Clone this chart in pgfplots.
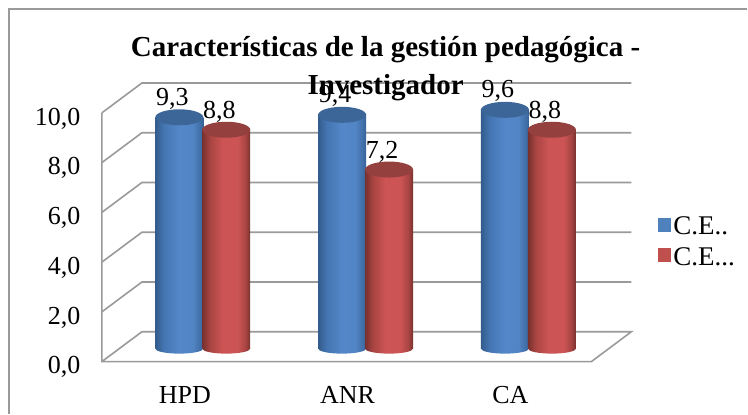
\documentclass[border=0pt]{standalone}
\usepackage{fontspec}
\setmainfont{Liberation Serif}
\usepackage{pgfplots}
\pgfplotsset{compat=1.18}
\definecolor{wallgray}{HTML}{9A9A9A}
\definecolor{bluetop}{HTML}{3C6698}
\definecolor{redtop}{HTML}{93403E}
\definecolor{blueleg}{HTML}{4F81BD}
\definecolor{redleg}{HTML}{C0504D}
\pgfdeclarehorizontalshading{cylb}{100bp}{
 rgb(0bp)=(0.20,0.36,0.55);
 rgb(25bp)=(0.20,0.36,0.55);
 rgb(34bp)=(0.27,0.46,0.70);
 rgb(50bp)=(0.33,0.53,0.79);
 rgb(64bp)=(0.32,0.52,0.77);
 rgb(72bp)=(0.25,0.43,0.65);
 rgb(75bp)=(0.22,0.38,0.58);
 rgb(100bp)=(0.22,0.38,0.58)}
\pgfdeclarehorizontalshading{cylr}{100bp}{
 rgb(0bp)=(0.47,0.19,0.18);
 rgb(25bp)=(0.47,0.19,0.18);
 rgb(33bp)=(0.66,0.27,0.26);
 rgb(46bp)=(0.80,0.33,0.33);
 rgb(62bp)=(0.80,0.33,0.33);
 rgb(70bp)=(0.66,0.27,0.26);
 rgb(75bp)=(0.47,0.19,0.18);
 rgb(100bp)=(0.47,0.19,0.18)}
\pgfdeclareplotmark{topb}{\pgfpathellipse{\pgfpointorigin}{\pgfpoint{24pt}{0pt}}{\pgfpoint{0pt}{8pt}}\pgfsetfillcolor{bluetop}\pgfusepathqfill}
\pgfdeclareplotmark{topr}{\pgfpathellipse{\pgfpointorigin}{\pgfpoint{24pt}{0pt}}{\pgfpoint{0pt}{8pt}}\pgfsetfillcolor{redtop}\pgfusepathqfill}
\pgfdeclareplotmark{botb}{\pgfpathellipse{\pgfpointorigin}{\pgfpoint{24pt}{0pt}}{\pgfpoint{0pt}{5pt}}\pgfshadepath{cylb}{0}\pgfusepath{discard}}
\pgfdeclareplotmark{botr}{\pgfpathellipse{\pgfpointorigin}{\pgfpoint{24pt}{0pt}}{\pgfpoint{0pt}{5pt}}\pgfshadepath{cylr}{0}\pgfusepath{discard}}
\pgfplotsset{
  full/.style={width=748pt,height=412pt,scale only axis,clip=false,
    axis line style={draw=none},tick style={draw=none}},
  cyl/.style={ybar,bar width=48pt,draw=none,shade,shading=#1,forget plot},
  lab/.style={nodes near coords,
    every node near coord/.append style={font=\fontsize{26}{26}\selectfont,inner sep=0pt,anchor=south,yshift=8pt,xshift=-7pt,
      /pgf/number format/fixed,/pgf/number format/fixed zerofill,/pgf/number format/precision=1,/pgf/number format/use comma,/pgf/number format/assume math mode=true}},
}
\begin{document}
\begin{tikzpicture}
% walls, frame and value axis: x in picture pixels from the left, y in chart units
\begin{axis}[full,at={(0,0)},anchor=south west,
  xmin=0,xmax=748,ymin=-2.0080,ymax=14.5382,
  xtick=\empty,ytick={0,2,4,6,8,10},
  yticklabel style={anchor=east,xshift=84pt,yshift=-5.5pt,font=\fontsize{26}{26}\selectfont,
    /pgf/number format/fixed,/pgf/number format/fixed zerofill,/pgf/number format/precision=1,/pgf/number format/use comma,/pgf/number format/assume math mode=true}]
\addplot[wallgray,line width=1.6pt,forget plot] coordinates {(9,-2.1)(9,14.18)(748,14.18)};
\addplot[wallgray,line width=1.6pt,forget plot] coordinates {(102,10)(142,11.2)(632,11.2)};
\addplot[wallgray,line width=1.6pt,forget plot] coordinates {(102,8)(142,9.2)(632,9.2)};
\addplot[wallgray,line width=1.6pt,forget plot] coordinates {(102,6)(142,7.2)(632,7.2)};
\addplot[wallgray,line width=1.6pt,forget plot] coordinates {(102,4)(142,5.2)(632,5.2)};
\addplot[wallgray,line width=1.6pt,forget plot] coordinates {(102,2)(142,3.2)(632,3.2)};
\addplot[wallgray,line width=1.6pt,forget plot] coordinates {(102,0)(142,1.2)(632,1.2)(592,0)(102,0)(102,10)};
\end{axis}
% cylinders: one category per unit
\begin{axis}[full,at={(0,0)},anchor=south west,
  xmin=-1.2454,xmax=3.3436,ymin=-2.5301,ymax=14.0161,
  xtick={0,1,2},xticklabels={HPD,ANR,CA},
  ytick=\empty,
  xticklabel style={font=\fontsize{26}{26}\selectfont,anchor=center,xshift=-18pt,yshift=17pt},
  legend cell align=left,
  legend style={draw=none,fill=none,at={(658pt,197pt)},anchor=north west,font=\fontsize{27}{27}\selectfont,inner sep=0pt,
    /tikz/every even column/.append style={column sep=8pt},
    /tikz/row sep=7pt,
    legend image code/.code={\fill[#1] (0cm,-5pt) rectangle (14pt,9pt);}}]
\addlegendimage{fill=blueleg,draw=none}
\addlegendentry{C.E..}
\addlegendimage{fill=redleg,draw=none}
\addlegendentry{C.E...}
% blue
\addplot[cyl=cylb,bar shift=-23.5pt] coordinates {(0,9.3)};
\addplot[cyl=cylb,bar shift=-23.5pt] coordinates {(1,9.4)};
\addplot[cyl=cylb,bar shift=-23.5pt] coordinates {(2,9.6)};
\addplot[only marks,mark=botb,forget plot,xshift=-23.5pt] coordinates {(0,0)(1,0)(2,0)};
\addplot[only marks,mark=topb,forget plot,xshift=-23.5pt,lab] coordinates {(0,9.3)(1,9.4)(2,9.6)};
% red
\addplot[cyl=cylr,bar shift=23.5pt] coordinates {(0,8.8)};
\addplot[cyl=cylr,bar shift=23.5pt] coordinates {(1,7.2)};
\addplot[cyl=cylr,bar shift=23.5pt] coordinates {(2,8.8)};
\addplot[only marks,mark=botr,forget plot,xshift=23.5pt] coordinates {(0,0)(1,0)(2,0)};
\addplot[only marks,mark=topr,forget plot,xshift=23.5pt,lab,every node near coord/.append style={yshift=-1pt}] coordinates {(0,8.8)(1,7.2)(2,8.8)};
\node[font=\fontsize{29}{38}\selectfont\bfseries,align=center,anchor=center] at (rel axis cs:0.516,0.8325) {Características de la gestión pedagógica -\\Investigador};
\end{axis}
\end{tikzpicture}
\end{document}
